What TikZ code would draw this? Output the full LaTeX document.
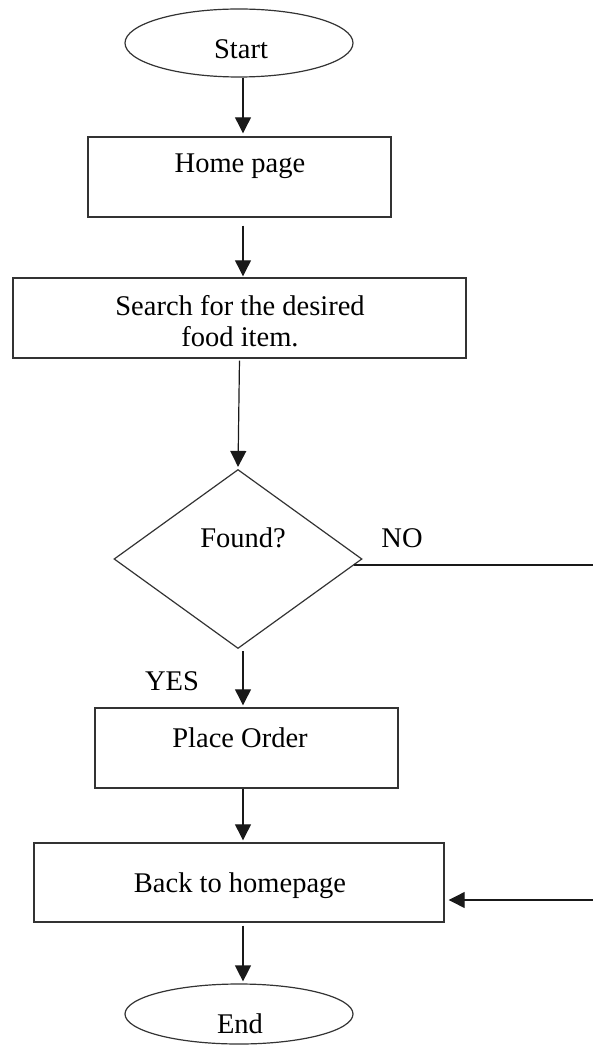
\documentclass[tikz,border=0pt]{standalone}
\usepackage{fontspec}
\setmainfont{Liberation Serif}
\usetikzlibrary{shapes.geometric,arrows.meta}
\begin{document}
\begin{tikzpicture}[x=1pt,y=-1pt,
  box/.style={draw=black!80, line width=1.4pt, rectangle, inner sep=0pt},
  oval/.style={draw=black!80, line width=1.2pt, ellipse, inner sep=0pt},
  decision/.style={draw=black!80, line width=1.2pt, diamond, inner sep=0pt, aspect=1.385},
  lbl/.style={font=\fontsize{28.5}{31}\selectfont, anchor=base, inner sep=0pt},
  arr/.style={draw=black!90, line width=1.2pt, -{Triangle[length=16pt,width=16pt]}},
  conn/.style={draw=black!90, line width=1.2pt}]
\useasboundingbox (0,0) rectangle (593,1048);

% shapes
\node[oval, minimum width=228pt, minimum height=68pt] (start) at (239,43) {};
\node[box, minimum width=303pt, minimum height=80pt] (home) at (239.5,177) {};
\node[box, minimum width=453pt, minimum height=80pt] (search) at (239.5,318) {};
\node[decision, minimum width=248pt, minimum height=179pt] (found) at (238,559) {};
\node[box, minimum width=303pt, minimum height=80pt] (place) at (246.5,748) {};
\node[box, minimum width=410pt, minimum height=79pt] (back) at (239,882.5) {};
\node[oval, minimum width=228pt, minimum height=60pt] (end) at (239,1014) {};

% texts
\node[lbl] (tstart) at (241,59) {Start};
\node[lbl] (thome) at (240,173) {Home page};
\node[lbl] (tsearch1) at (240,315) {Search for the desired};
\node[lbl] (tsearch2) at (240,346) {food item.};
\node[lbl] (tfound) at (243,547) {Found?};
\node[lbl] (tno) at (402,547) {NO};
\node[lbl] (tyes) at (172,690) {YES};
\node[lbl] (tplace) at (240,747) {Place Order};
\node[lbl] (tback) at (240,892) {Back to homepage};
\node[lbl] (tend) at (240,1033) {End};

% free ends at the right border
\coordinate (noend) at (593,566);
\coordinate (retstart) at (593,900);

% connectors
\draw[arr, shorten >=3pt] ([xshift=4pt]start.south) -- ([xshift=3.5pt]home.north);
\draw[arr, shorten <=8pt, shorten >=1pt] ([xshift=3.5pt]home.south) -- ([xshift=3.5pt]search.north);
\draw[arr, shorten <=2pt, shorten >=2pt] (search.south) -- (found.north);
\draw[arr, shorten <=2pt, shorten >=2pt] ([xshift=5pt]found.south) -- ([xshift=-3.5pt]place.north);
\draw[arr, shorten >=2pt] ([xshift=-3.5pt]place.south) -- ([xshift=4pt]back.north);
\draw[arr, shorten <=3pt, shorten >=2pt] ([xshift=4pt]back.south) -- ([xshift=4pt]end.north);
\draw[conn] (found.-3.5) -- (found.-3.5 -| noend);
\draw[arr, shorten >=4pt] (retstart) -- (retstart -| back.east);
\end{tikzpicture}
\end{document}
